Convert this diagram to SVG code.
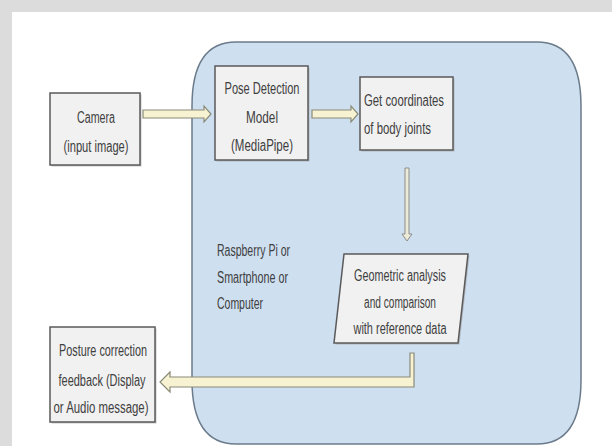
<svg xmlns="http://www.w3.org/2000/svg" width="612" height="446" viewBox="0 0 612 446">
<style>
.box{fill:#f1f1f1;stroke:#5a5a5a;stroke-width:1.5}
.shadow{fill:#9a9a9a;opacity:0.55}
.t{font-family:"Liberation Sans",Arial,sans-serif;font-size:16px;fill:#404040}
.c{text-anchor:middle}
.blk{fill:#f7f3d2;stroke:#8a8a78;stroke-width:1.2;stroke-linejoin:miter}
.thin{fill:#ecebd8;stroke:#8c8c8c;stroke-width:1}
</style>
<rect x="0" y="0" width="612" height="446" fill="#dcdcdc"/>
<rect x="12" y="12" width="600" height="434" fill="#ffffff"/>

<g id="container">
<path d="M236,42 H537 Q581,42 581,106 V380 Q581,444 537,444 H236 Q192,444 192,380 V106 Q192,42 236,42 Z" fill="#cedff0" stroke="#6b7b8b" stroke-width="1.5"/>
</g>

<g id="connectors">
<polygon class="blk" points="143,110 204,110 204,106 211,114 204,122 204,118 143,118"/>
<polygon class="blk" points="312,110 351,110 351,106 358,114 351,122 351,118 312,118"/>
<polygon class="thin" points="405,168 409,168 409,234 412,234 407,241 402,234 405,234"/>
<polygon class="blk" points="410,353 414,353 414,387 170,387 170,392 160,382 170,372 170,377 410,377"/>
</g>

<g id="camera">
<rect class="shadow" x="51.5" y="94.5" width="90" height="72"/>
<rect class="box" x="50" y="93" width="90" height="72"/>
<text class="t c" x="96" y="123" textLength="38" lengthAdjust="spacingAndGlyphs">Camera</text>
<text class="t c" x="96" y="152" textLength="65" lengthAdjust="spacingAndGlyphs">(input image)</text>
</g>

<g id="pose">
<rect class="shadow" x="216.5" y="67.5" width="93" height="94"/>
<rect class="box" x="215" y="66" width="93" height="94"/>
<text class="t c" x="262" y="94" textLength="75" lengthAdjust="spacingAndGlyphs">Pose Detection</text>
<text class="t c" x="262" y="123" textLength="32" lengthAdjust="spacingAndGlyphs">Model</text>
<text class="t c" x="262" y="151" textLength="62" lengthAdjust="spacingAndGlyphs">(MediaPipe)</text>
</g>

<g id="coords">
<rect class="shadow" x="361.5" y="78.5" width="93" height="73"/>
<rect class="box" x="360" y="77" width="93" height="73"/>
<text class="t" x="364" y="106" textLength="80" lengthAdjust="spacingAndGlyphs">Get coordinates</text>
<text class="t" x="364" y="134" textLength="67" lengthAdjust="spacingAndGlyphs">of body joints</text>
</g>

<g id="geometric">
<polygon class="shadow" points="345.5,255.5 469.5,255.5 459.5,344.5 335.5,344.5"/>
<polygon class="box" points="344,254 468,254 458,343 334,343"/>
<text class="t c" x="400" y="281" textLength="92" lengthAdjust="spacingAndGlyphs">Geometric analysis</text>
<text class="t c" x="400" y="308" textLength="72" lengthAdjust="spacingAndGlyphs">and comparison</text>
<text class="t c" x="400" y="334" textLength="93" lengthAdjust="spacingAndGlyphs">with reference data</text>
</g>

<g id="device-label">
<text class="t" x="217" y="256" textLength="73" lengthAdjust="spacingAndGlyphs">Raspberry Pi or</text>
<text class="t" x="217" y="283" textLength="71" lengthAdjust="spacingAndGlyphs">Smartphone or</text>
<text class="t" x="217" y="309" textLength="46" lengthAdjust="spacingAndGlyphs">Computer</text>
</g>

<g id="feedback">
<rect class="shadow" x="51.5" y="328.5" width="105" height="95"/>
<rect class="box" x="50" y="327" width="105" height="95"/>
<text class="t c" x="103" y="356" textLength="88" lengthAdjust="spacingAndGlyphs">Posture correction</text>
<text class="t c" x="102" y="386" textLength="87" lengthAdjust="spacingAndGlyphs">feedback (Display</text>
<text class="t c" x="101" y="413" textLength="95" lengthAdjust="spacingAndGlyphs">or Audio message)</text>
</g>
</svg>
